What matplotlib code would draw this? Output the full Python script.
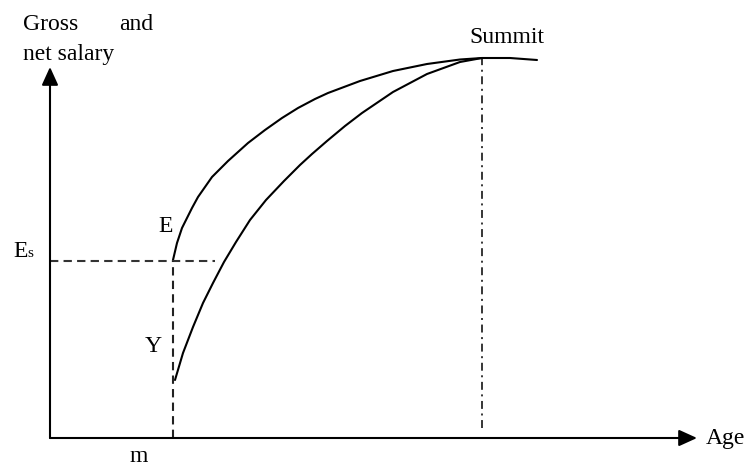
import matplotlib
matplotlib.use("Agg")
import matplotlib.pyplot as plt

plt.rcParams["font.family"] = ["Liberation Serif", "DejaVu Serif"]

# schematic values (age / salary in drawing units)
gross_age = [123, 127, 132, 142, 148, 162, 178, 198, 215, 232, 248, 265, 278,
             310, 343, 377, 410, 432, 460, 487]
gross_salary = [178, 195, 210, 230, 241, 261, 277, 295, 308, 320, 330, 339, 345,
                357, 367, 374, 378.5, 380, 380, 378]
net_age = [125, 133, 143, 153, 163, 174, 186, 200, 216, 234, 250, 262, 277,
           295, 312, 343, 377, 410, 432]
net_salary = [58, 85, 111, 135, 155, 176, 196, 218, 238, 257, 273, 284, 297,
              312, 325, 346, 364, 376, 380]

entry_age = 123       # m
entry_salary = 177    # E_s
summit_age = 432
summit_salary = 380
age_axis_end = 647
salary_axis_end = 371

fig = plt.figure(figsize=(7.47, 4.66), dpi=100)
ax = fig.add_axes([0, 0, 1, 1])
ax.set_xlim(-50, 697)
ax.set_ylim(-28, 438)
ax.axis("off")

arrow = dict(arrowstyle="-|>,head_length=11,head_width=5", mutation_scale=1,
             lw=1.5, color="black", shrinkA=0, shrinkB=0)
ax.annotate("", xy=(age_axis_end, 0), xytext=(0, 0), arrowprops=arrow)
ax.annotate("", xy=(0, salary_axis_end), xytext=(0, 0), arrowprops=arrow)

ax.plot(gross_age, gross_salary, color="black", lw=1.5,
        solid_capstyle="round", solid_joinstyle="round")
ax.plot(net_age, net_salary, color="black", lw=1.5,
        solid_capstyle="round", solid_joinstyle="round")

# guide lines
ax.plot([0, 165], [entry_salary, entry_salary], color="#333333", lw=1.5, dashes=(4, 2.5))
ax.plot([entry_age, entry_age], [0, entry_salary], color="#222222", lw=1.5, dashes=(4, 2.5))
ax.plot([summit_age, summit_age], [10, summit_salary], color="black", lw=1.1,
        dashes=(5.2, 3, 1.3, 3))

fs = 17
ax.text(-27, 408, "Gross", fontsize=fs, va="baseline")
ax.text(69, 408, "and", fontsize=fs, va="baseline")
ax.text(-27, 378, "net salary", fontsize=fs, va="baseline")
ax.text(457, 395, "Summit", fontsize=fs, ha="center", va="baseline")
ax.text(108, 206, "E", fontsize=fs, va="baseline")
ax.text(95, 86, "Y", fontsize=fs, va="baseline")
ax.text(-37, 181, "E", fontsize=fs, va="baseline")
ax.text(-23, 181, "s", fontsize=11, va="baseline")
ax.text(79, -24, "m", fontsize=fs, va="baseline")
ax.text(656, -6, "Age", fontsize=fs, va="baseline")

fig.savefig("out.png", dpi=100)
plt.close(fig)
